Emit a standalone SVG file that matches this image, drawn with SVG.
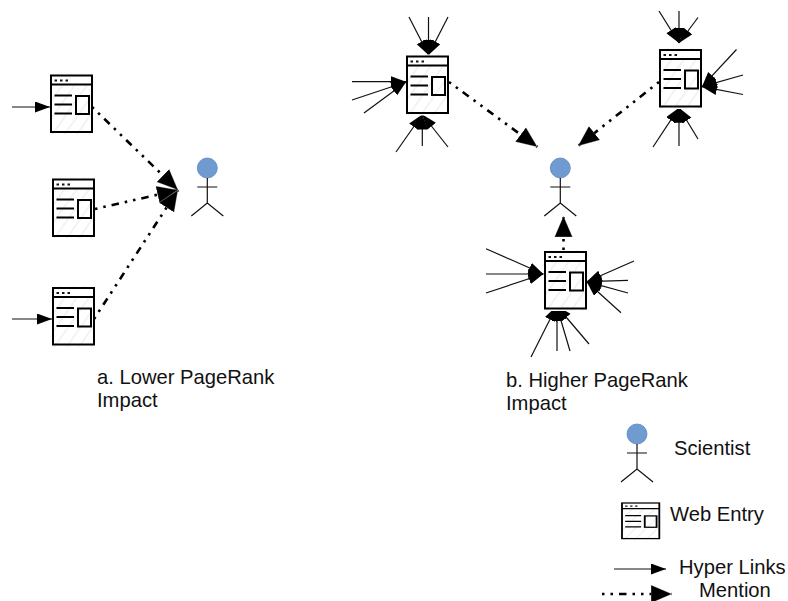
<svg xmlns="http://www.w3.org/2000/svg" width="788" height="601" viewBox="0 0 788 601">
<style>
text{font-family:"Liberation Sans",Arial,sans-serif;font-size:20.2px;fill:#111}
.link{fill:none;stroke:#111;stroke-width:1.2;marker-end:url(#hl)}
.mention{fill:none;stroke:#000;stroke-width:2.6;stroke-dasharray:2.5 6 2.5 6 7.500 6;marker-end:url(#mh)}
.frame{fill:none;stroke:#000;stroke-width:2}
.ink{fill:none;stroke:#000;stroke-width:2}
.stick{fill:none;stroke:#111;stroke-width:1.2}
.head{fill:#6f9bd1;stroke:#5b86bd;stroke-width:.8}
</style>
<defs>
<marker id="hl" markerUnits="userSpaceOnUse" markerWidth="16" markerHeight="12" refX="15" refY="5.500" orient="auto"><path d="M0 0L15 5.500L0 11Z" fill="#000"/></marker>
<marker id="mh" markerUnits="userSpaceOnUse" markerWidth="23" markerHeight="21" refX="21" refY="10" orient="auto"><path d="M0 1L21 10L0 19Z" fill="#000" stroke="#fff" stroke-width=".3"/></marker>
<pattern id="hatch" patternUnits="userSpaceOnUse" width="10" height="10" patternTransform="rotate(35)"><rect width="10" height="10" fill="#fff"/><path d="M5 0V10" stroke="#ececec" stroke-width="1.2"/></pattern>
<symbol id="web" overflow="visible">
<rect x="0" y="-2" width="41" height="61" fill="url(#hatch)"/>
<rect x="0" y="0" width="41" height="9" fill="#fff"/>
<rect class="frame" x="0" y="0" width="41" height="56.500"/>
<path class="frame" d="M0 9H41"/>
<path d="M3.500 5H6M9 5H11.500M14.500 5H17" stroke="#111" stroke-width="2.200" fill="none"/>
<path class="ink" d="M3.500 20H21M3.500 29H21M3.500 38H21"/>
<rect class="ink" x="25" y="20.500" width="13" height="18"/>
</symbol>
<symbol id="actor" overflow="visible">
<circle class="head" cx="0" cy="0" r="10"/>
<path class="stick" d="M0 10V35M-10 19H10M-16 48L0 35L16 48"/>
</symbol>
</defs>
<g id="connectors">
<path class="link" d="M12 107H50"/>
<path class="link" d="M12 319H52"/>
<path class="mention" d="M92 107L178 190"/>
<path class="mention" d="M95 209L178 190"/>
<path class="mention" d="M94 319L178 190"/>
<path class="link" d="M409 17L428.500 55"/>
<path class="link" d="M428.500 17V55"/>
<path class="link" d="M448 17L428.500 55"/>
<path class="link" d="M352 81.700H406"/>
<path class="link" d="M352 100L406 82"/>
<path class="link" d="M364 113L406 82"/>
<path class="link" d="M396 152L422.300 114.500"/>
<path class="link" d="M422.300 146V114.500"/>
<path class="link" d="M448 147L422.300 114.500"/>
<path class="mention" d="M449 82L537.500 147"/>
<path class="link" d="M659 11L679 43"/>
<path class="link" d="M679 11V43"/>
<path class="link" d="M698 17.500L679 43"/>
<path class="link" d="M736.500 49.500L702 86.700"/>
<path class="link" d="M743 75L702 86.700"/>
<path class="link" d="M743 94.500L702 86.700"/>
<path class="link" d="M653 147L679 107.700"/>
<path class="link" d="M679 146V107.700"/>
<path class="link" d="M698 139L679 107.700"/>
<path class="mention" d="M659 82L578 146"/>
<path class="link" d="M486 248.700L543.300 274"/>
<path class="link" d="M486 274H543.300"/>
<path class="link" d="M486 293L543.300 274"/>
<path class="link" d="M634 261L586.700 281.700"/>
<path class="link" d="M628 280.300L586.700 281.700"/>
<path class="link" d="M628 293L586.700 281.700"/>
<path class="link" d="M621 312.700L586.700 281.700"/>
<path class="link" d="M531 357L556.700 306"/>
<path class="link" d="M557 351V306"/>
<path class="link" d="M570 351L556.700 306"/>
<path class="link" d="M589 344L556.700 306"/>
<path class="mention" d="M563.500 250V216"/>
<path class="link" d="M614 569H666"/>
<path class="mention" d="M602 594H672"/>
</g>
<g id="entry-a1"><use href="#web" x="51" y="75.500"/></g>
<g id="entry-a2"><use href="#web" x="53" y="179.500"/></g>
<g id="entry-a3"><use href="#web" x="53" y="288"/></g>
<g id="entry-b1"><use href="#web" x="407" y="56.500"/></g>
<g id="entry-b2"><use href="#web" x="660" y="50"/></g>
<g id="entry-b3"><use href="#web" x="545" y="252"/></g>
<g id="scientist-a"><use href="#actor" x="207.300" y="168"/></g>
<g id="scientist-b"><use href="#actor" x="560.300" y="168"/></g>
<g id="caption-a"><text x="97" y="384">a. Lower PageRank</text><text x="97" y="407">Impact</text></g>
<g id="caption-b"><text x="506" y="387">b. Higher PageRank</text><text x="506" y="410">Impact</text></g>
<g id="legend-scientist"><use href="#actor" x="637" y="434"/><text x="674" y="455">Scientist</text></g>
<g id="legend-web"><g transform="translate(622 503) scale(.91 .63)"><use href="#web"/></g><text x="670" y="521">Web Entry</text></g>
<g id="legend-links"><text x="679" y="574">Hyper Links</text></g>
<g id="legend-mention"><text x="699" y="596.500">Mention</text></g>
</svg>
